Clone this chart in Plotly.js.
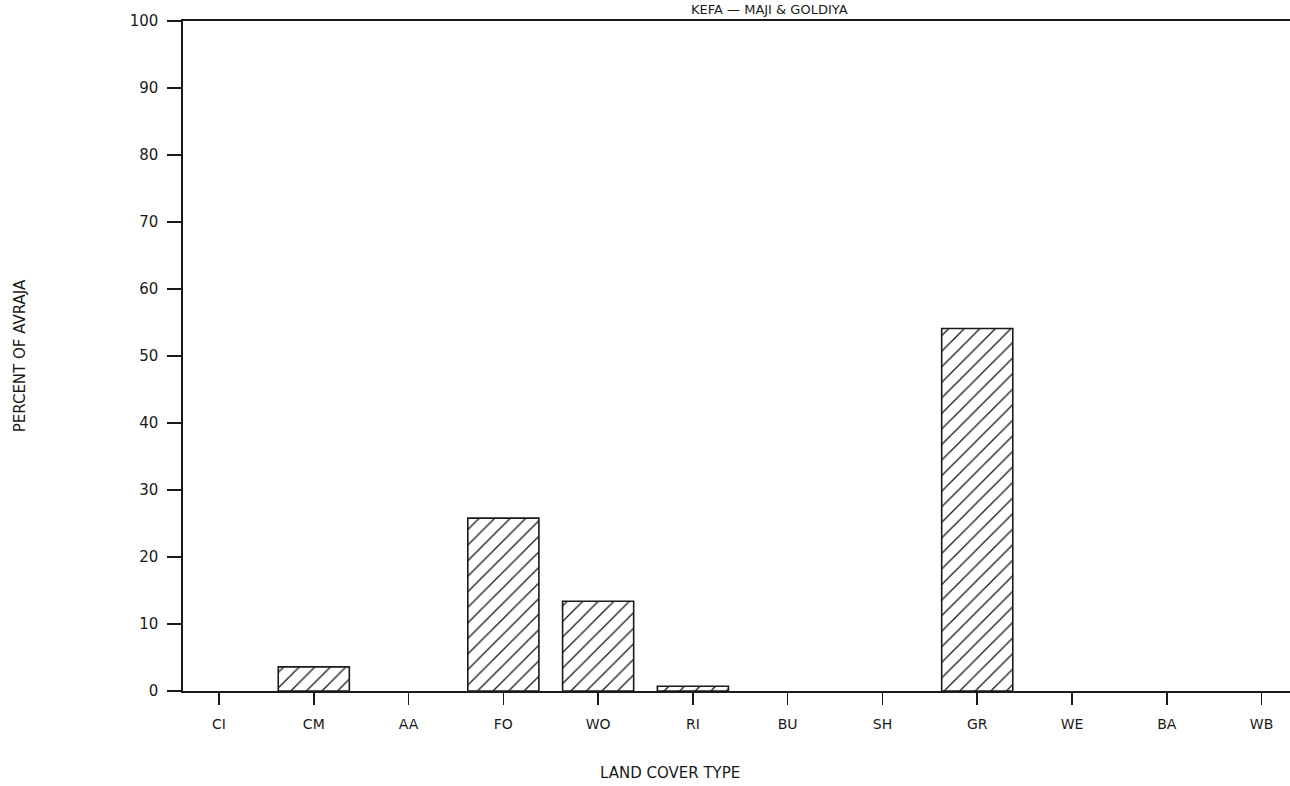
<!DOCTYPE html>
<html>
<head>
<meta charset="utf-8">
<script src="https://cdn.plot.ly/plotly-3.0.1.min.js"></script>
<style>
html,body{margin:0;padding:0;background:#fff;}
#chart{width:1290px;height:786px;}
</style>
</head>
<body>
<div id="chart"></div>
<script>
var categories = ["CI","CM","AA","FO","WO","RI","BU","SH","GR","WE","BA","WB"];
var percentValues = [0, 3.6, 0, 25.8, 13.4, 0.7, 0, 0, 54.1, 0, 0, 0];
var yTickValues = [0,10,20,30,40,50,60,70,80,90,100];
var titleText = "KEFA \u2014 MAJI &amp; GOLDIYA";
var xTitleText = "LAND COVER TYPE";
var yTitleText = "PERCENT OF AVRAJA";

var fontFam = "DejaVu Sans, Liberation Sans, sans-serif";
var ink = "#1a1a1a";

var trace = {
  type: "bar",
  x: categories.map(function(c,i){return i;}),
  y: percentValues,
  width: 0.75,
  marker: {
    color: "#ffffff",
    line: {color: ink, width: percentValues.map(function(v){return v > 0 ? 1.6 : 0;})},
    pattern: {shape: "/", fgcolor: ink, bgcolor: "#ffffff", size: 11, solidity: 0.12}
  },
  hoverinfo: "x+y"
};

var layout = {
  width: 1290,
  height: 786,
  margin: {l: 183, r: 0, t: 21, b: 95},
  paper_bgcolor: "#ffffff",
  plot_bgcolor: "#ffffff",
  showlegend: false,
  font: {family: fontFam, color: ink, size: 14},
  xaxis: {
    range: [-0.38, 11.30],
    tickmode: "array",
    tickvals: categories.map(function(c,i){return i;}),
    ticktext: categories,
    ticks: "outside",
    ticklen: 12,
    tickwidth: 1.5,
    tickcolor: ink,
    ticklabelstandoff: 8,
    showline: true,
    mirror: true,
    linecolor: ink,
    linewidth: 1.6,
    showgrid: false,
    zeroline: false,
    tickfont: {family: fontFam, size: 14, color: ink}
  },
  yaxis: {
    range: [0, 100],
    tickmode: "array",
    tickvals: yTickValues,
    ticktext: yTickValues.map(String),
    ticks: "outside",
    ticklen: 14,
    tickwidth: 1.5,
    tickcolor: ink,
    ticklabelstandoff: 6,
    showline: true,
    mirror: false,
    linecolor: ink,
    linewidth: 1.6,
    showgrid: false,
    zeroline: false,
    tickfont: {family: fontFam, size: 15, color: ink},
    title: {text: yTitleText, font: {family: fontFam, size: 15, color: ink}, standoff: 100}
  },
  annotations: [{
    text: titleText,
    xref: "paper", yref: "paper",
    x: 0.530, y: 1,
    xanchor: "center", yanchor: "middle",
    yshift: 12,
    showarrow: false,
    font: {family: fontFam, size: 13, color: ink}
  }, {
    text: xTitleText,
    xref: "paper", yref: "paper",
    x: 0.44, y: 0,
    xanchor: "center", yanchor: "middle",
    yshift: -82,
    showarrow: false,
    font: {family: fontFam, size: 15, color: ink}
  }]
};

Plotly.newPlot("chart", [trace], layout, {displayModeBar: false, staticPlot: true});
</script>
</body>
</html>
